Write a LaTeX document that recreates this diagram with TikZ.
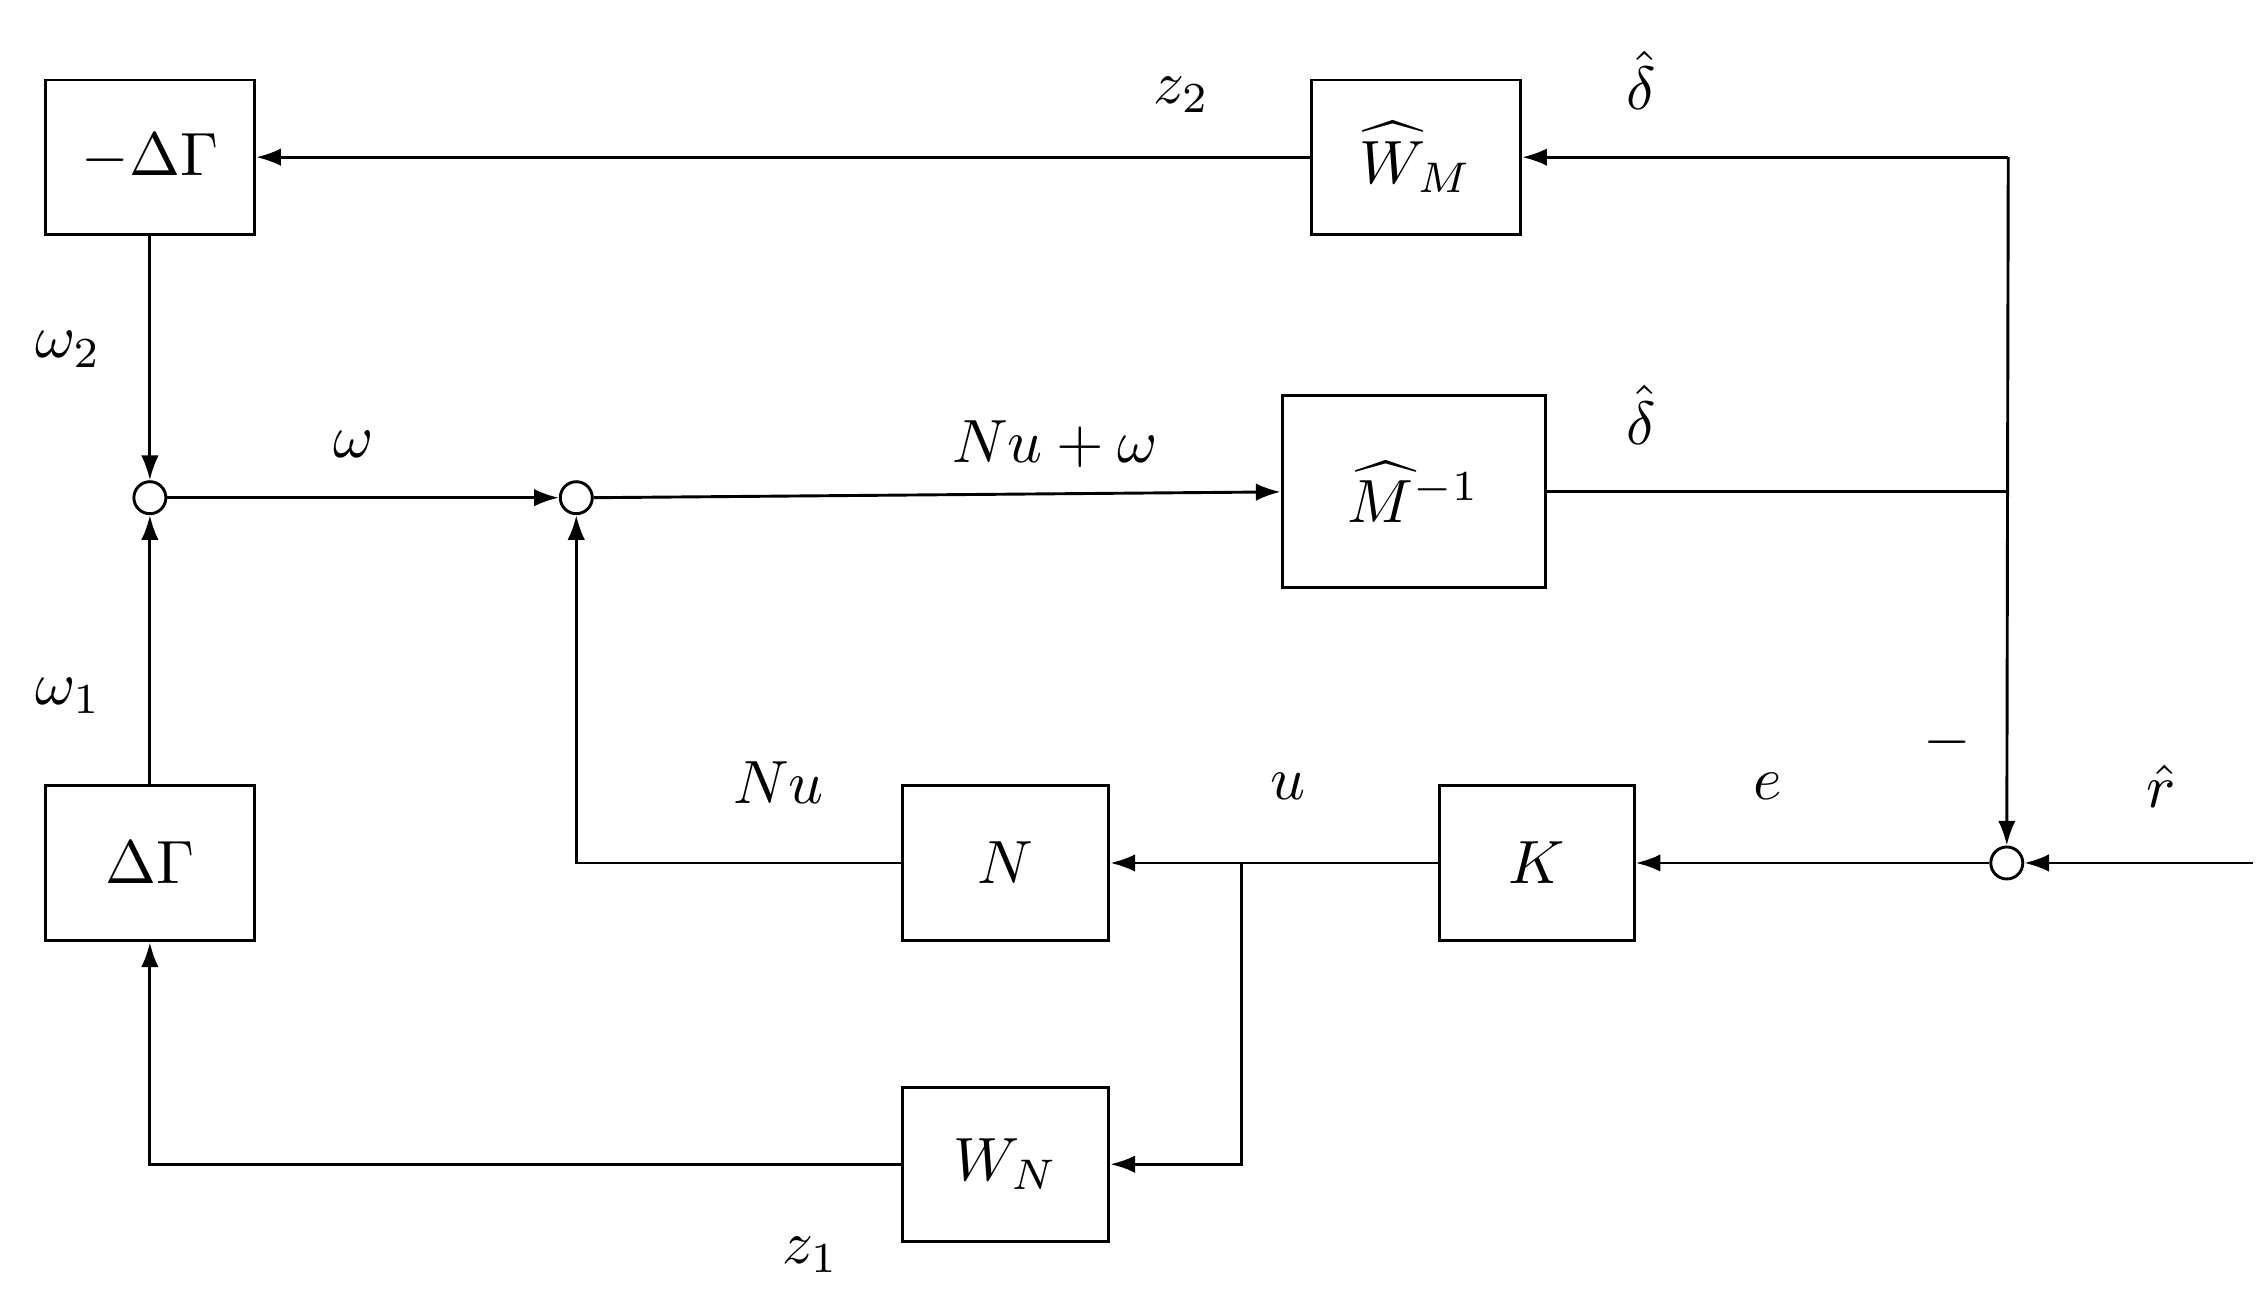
\documentclass[tikz,border=0pt]{standalone}
\usepackage{amsmath}
\usetikzlibrary{arrows.meta}
\newcommand{\Tx}[1]{\scalebox{4.2}{$#1$}}
\begin{document}
\begin{tikzpicture}[x=1pt,y=-1pt,line width=2pt,
  blk/.style={draw,minimum width=#1,inner sep=0pt},
  sum/.style={draw,circle,minimum size=22pt,inner sep=0pt,fill=white},
  arr/.style={-{Latex[length=17pt,width=12pt]}}]
\useasboundingbox (0,0) rectangle (1553,894);
\node[blk=144pt,minimum height=106pt] (ndg) at (103,108) {\Tx{-\Delta\Gamma}};
\node[blk=144pt,minimum height=106pt] (wm) at (973,108) {\Tx{\widehat{W}_M}};
\node[blk=181pt,minimum height=132pt] (mi) at (971.5,338) {\Tx{\widehat{M}^{-1}}};
\node[blk=144pt,minimum height=107pt] (dg) at (103,593) {\Tx{\Delta\Gamma}};
\node[blk=142pt,minimum height=107pt] (n) at (691,593) {\Tx{N}};
\node[blk=134pt,minimum height=107pt] (k) at (1056,593) {\Tx{K}};
\node[blk=142pt,minimum height=106pt] (wn) at (691,800) {\Tx{W_N}};
\node[sum] (s1) at (103,342) {};
\node[sum] (s2) at (396,342) {};
\node[sum] (s3) at (1379,593) {};
\coordinate (tr) at (1380,108);
\coordinate (mr) at (1380,338);
\coordinate (in) at (1548,593);
\coordinate (br) at (853,593);
\draw[arr] (tr) -- (wm.east);
\draw[arr] (wm.west) -- (ndg.east);
\draw[arr] (ndg.south) -- (s1.north);
\draw[arr] (dg.north) -- (s1.south);
\draw[arr] (s1.east) -- (s2.west);
\draw[arr] (s2.east) -- (mi.west);
\draw (mi.east) -- (mr);
\draw[arr] (tr) -- (s3.north);
\draw[arr] (in) -- (s3.east);
\draw[arr] (s3.west) -- (k.east);
\draw[arr] (k.west) -- (n.east);
\draw[arr] (n.west) -| (s2.south);
\draw[arr] (br) |- (wn.east);
\draw[arr] (wn.west) -| (dg.south);
\node at (812,65) {\Tx{z_2}};
\node at (1128,55) {\Tx{\hat\delta}};
\node at (1128,285) {\Tx{\hat\delta}};
\node at (47,240) {\Tx{\omega_2}};
\node at (243,305) {\Tx{\omega}};
\node at (725,305) {\Tx{Nu+\omega}};
\node at (47,478) {\Tx{\omega_1}};
\node at (535,538) {\Tx{Nu}};
\node at (885,540) {\Tx{u}};
\node at (1215,540) {\Tx{e}};
\node at (1338,510) {\Tx{-}};
\node at (1485,540) {\Tx{\hat r}};
\node at (557,862) {\Tx{z_1}};
\end{tikzpicture}
\end{document}
